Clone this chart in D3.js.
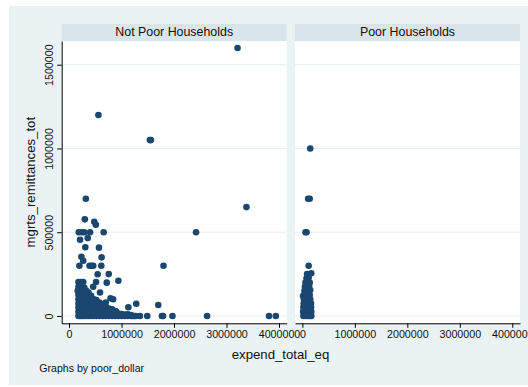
<!DOCTYPE html>
<html>
<head>
<meta charset="utf-8">
<script src="https://cdn.jsdelivr.net/npm/d3@7"></script>
<style>
  html, body { margin: 0; padding: 0; background: #fff; }
  svg { display: block; }
  text { font-family: "Liberation Sans", Arial, Helvetica, sans-serif; fill: #111; }
</style>
</head>
<body>
<svg id="chart" width="528" height="387"></svg>
<script>
// Panel titles (one panel per value of poor_dollar)
const panelTitles = ["Not Poor Households", "Poor Households"];

// Not poor households: total equivalised expenditure and total remittances received
const notPoorExpend = [
  3210000, 560000, 1540000, 1560000, 320000, 3380000, 2420000, 1800000,
  300000, 480000, 510000, 185000, 240000, 290000, 400000, 660000,
  210000, 356000, 570000, 310000, 235000, 620000, 270000, 197000,
  390000, 430000, 460000, 615000, 545000, 756000, 940000, 718000,
  180000, 230000, 270000, 514000, 460000, 165000, 590000, 790000,
  840000, 700000, 1280000, 1130000, 1700000, 895000,
  1210000, 1270000, 1350000, 1490000, 1770000, 1790000, 1970000, 2630000, 3810000, 3940000,
  180000, 180000, 180000, 180000, 180000, 180000, 180000, 180000,
  215000, 215000, 215000, 215000, 215000, 215000, 215000, 215000, 215000,
  250000, 250000, 250000, 250000, 250000, 250000, 250000, 250000,
  290000, 290000, 290000, 290000, 290000, 290000, 290000, 290000,
  330000, 330000, 330000, 330000, 330000, 330000, 330000,
  370000, 370000, 370000, 370000, 370000, 370000, 370000,
  420000, 420000, 420000, 420000, 420000, 420000,
  470000, 470000, 470000, 470000, 470000,
  520000, 520000, 520000, 520000, 520000,
  580000, 580000, 580000, 580000,
  640000, 640000, 640000, 640000,
  700000, 700000, 700000,
  760000, 760000, 760000,
  820000, 820000, 820000,
  880000, 880000, 880000,
  940000, 940000,
  1000000, 1000000,
  1060000, 1060000,
  1120000, 1120000,
  1180000, 1180000,
  1240000
];
const notPoorRemit = [
  1600000, 1200000, 1050000, 1050000, 700000, 650000, 500000, 300000,
  577000, 563000, 545000, 500000, 500000, 500000, 500000, 500000,
  455000, 465000, 408000, 410000, 354000, 350000, 330000, 300000,
  300000, 300000, 300000, 300000, 249000, 250000, 210000, 199000,
  203000, 203000, 203000, 203000, 175000, 150000, 140000, 106000,
  100000, 80000, 73000, 52000, 66000, 26000,
  0, 0, 0, 0, 0, 0, 0, 0, 0, 0,
  0, 25000, 50000, 75000, 100000, 125000, 150000, 175000,
  0, 25000, 50000, 75000, 100000, 125000, 150000, 175000, 190000,
  0, 25000, 50000, 75000, 100000, 125000, 150000, 175000,
  0, 25000, 50000, 75000, 100000, 125000, 150000, 170000,
  0, 25000, 50000, 75000, 100000, 125000, 150000,
  0, 25000, 50000, 75000, 100000, 125000, 140000,
  0, 25000, 50000, 75000, 100000, 120000,
  0, 25000, 50000, 75000, 100000,
  0, 25000, 50000, 75000, 95000,
  0, 25000, 50000, 80000,
  0, 25000, 50000, 70000,
  0, 25000, 55000,
  0, 20000, 45000,
  0, 20000, 40000,
  0, 15000, 30000,
  0, 15000,
  0, 12000,
  0, 8000,
  0, 10000,
  0, 5000,
  0
];

// Poor households
const poorExpend = [
  20000, 60000, 100000, 140000, 170000,
  15000, 55000, 95000, 135000, 170000,
  20000, 60000, 100000, 140000, 165000,
  25000, 65000, 105000, 145000, 165000,
  30000, 70000, 110000, 150000,
  15000, 55000, 95000, 140000,
  40000, 80000, 120000, 150000,
  50000, 90000, 130000,
  60000, 100000, 140000,
  80000, 120000,
  90000, 170000,
  120000,
  60000, 80000,
  110000, 140000,
  150000
];
const poorRemit = [
  0, 0, 0, 0, 0,
  25000, 25000, 25000, 25000, 25000,
  50000, 50000, 50000, 50000, 50000,
  75000, 75000, 75000, 75000, 75000,
  100000, 100000, 100000, 100000,
  120000, 125000, 125000, 125000,
  150000, 150000, 150000, 155000,
  175000, 175000, 180000,
  200000, 205000, 200000,
  225000, 230000,
  250000, 255000,
  300000,
  500000, 500000,
  700000, 700000,
  1000000
];

// Axis ticks
const xTicks = [0, 1000000, 2000000, 3000000, 4000000];
const yTicks = [0, 500000, 1000000, 1500000];

const xTitle = "expend_total_eq";
const yTitle = "mgrts_remittances_tot";
const note = "Graphs by poor_dollar";

const navy = "#1a476f";
const bgColor = "#eaf2f3";
const stripColor = "#d9e5eb";
const gridColor = "#e6eef0";

const svg = d3.select("#chart");

svg.append("rect").attr("x", 9).attr("y", 6).attr("width", 519).attr("height", 379)
  .attr("fill", bgColor);

const plotTop = 41, plotBottom = 323.3;
const panels = [
  { title: panelTitles[0], x0: 61.7, x1: 286.7, xs: notPoorExpend, ys: notPoorRemit, yAxis: true },
  { title: panelTitles[1], x0: 295, x1: 520, xs: poorExpend, ys: poorRemit, yAxis: false }
];

const y = d3.scaleLinear().domain([-43600, 1641500]).range([plotBottom, plotTop]);

panels.forEach(p => {
  const x = d3.scaleLinear().domain([-140000, 4147000]).range([p.x0, p.x1]);
  const g = svg.append("g");

  // strip heading
  g.append("rect").attr("x", p.x0).attr("y", 24).attr("width", p.x1 - p.x0).attr("height", 17)
    .attr("fill", stripColor);
  g.append("text").attr("x", (p.x0 + p.x1) / 2).attr("y", 35.5)
    .attr("text-anchor", "middle").style("font-size", "12.4px").text(p.title);

  // plot area
  g.append("rect").attr("x", p.x0).attr("y", plotTop).attr("width", p.x1 - p.x0)
    .attr("height", plotBottom - plotTop).attr("fill", "#fff");

  // horizontal gridlines
  g.selectAll("line.grid").data(yTicks).join("line").attr("class", "grid")
    .attr("x1", p.x0).attr("x2", p.x1)
    .attr("y1", d => y(d)).attr("y2", d => y(d))
    .attr("stroke", gridColor).attr("stroke-width", 1);

  // markers
  g.selectAll("circle").data(p.xs.map((v, i) => [v, p.ys[i]])).join("circle")
    .attr("cx", d => x(d[0])).attr("cy", d => y(d[1])).attr("r", 3.3)
    .attr("fill", navy);

  // x axis
  const xa = g.append("g").attr("transform", `translate(0,${plotBottom})`)
    .call(d3.axisBottom(x).tickValues(xTicks).tickFormat(d3.format("d")).tickSize(4.5).tickSizeOuter(0));
  xa.select(".domain").attr("stroke", "#000");
  xa.selectAll(".tick line").attr("stroke", "#000");
  xa.selectAll("text").attr("y", 15).attr("dy", 0).style("font-size", "10.7px")
    .style("font-family", '"Liberation Sans", Arial, sans-serif').attr("fill", "#111");

  if (p.yAxis) {
    const ya = g.append("g").attr("transform", `translate(${p.x0},0)`)
      .call(d3.axisLeft(y).tickValues(yTicks).tickFormat(d3.format("d")).tickSize(4.5).tickSizeOuter(0));
    ya.select(".domain").attr("stroke", "#000");
    ya.selectAll(".tick line").attr("stroke", "#000");
    ya.selectAll("text").attr("transform", "rotate(-90)").attr("x", 0).attr("y", -8.7).attr("dy", 0)
      .style("text-anchor", "middle").style("font-size", "10.7px")
      .style("font-family", '"Liberation Sans", Arial, sans-serif').attr("fill", "#111");
  }
});

// axis titles and note
svg.append("text").attr("transform", `translate(34.5,${(plotTop + plotBottom) / 2}) rotate(-90)`)
  .attr("text-anchor", "middle").style("font-size", "13.2px").text(yTitle);
svg.append("text").attr("x", 280.5).attr("y", 358.5).attr("text-anchor", "middle")
  .style("font-size", "13.2px").text(xTitle);
svg.append("text").attr("x", 39.3).attr("y", 371.5).style("font-size", "10.6px").text(note);
</script>
</body>
</html>
